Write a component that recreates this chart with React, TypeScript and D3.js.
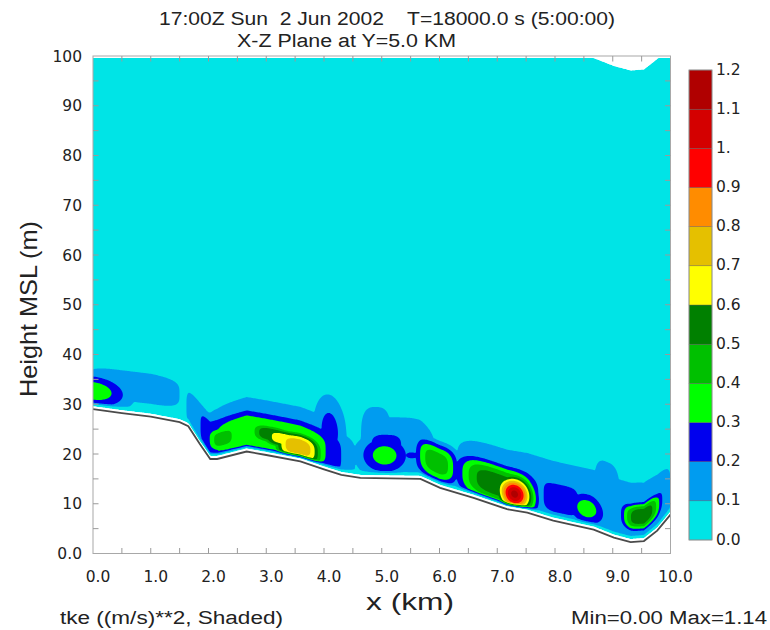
import React, { useMemo } from "react";
import * as d3 from "d3";

// Surface elevation along the slice: x (km) and height MSL (m)
const terrainX = [0, 0.5, 1.0, 1.5, 1.65, 1.85, 2.03, 2.15, 2.66, 3.0, 3.59, 4.0, 4.3, 4.63, 5.67, 6.01, 6.59, 7.17, 7.52, 7.97, 8.67, 9.02, 9.31, 9.54, 9.77, 10.0];
const terrainZ = [29.0, 28.2, 27.5, 26.4, 25.6, 22.0, 19.0, 19.0, 20.5, 19.8, 18.5, 16.9, 15.8, 15.2, 15.0, 13.2, 11.2, 8.9, 8.2, 6.6, 4.8, 3.2, 2.3, 2.5, 4.6, 7.8];

// Turbulent eddies: centre x (km), centre height above ground (m),
// half-widths (km, m), peak tke (m²/s²) and edge sharpness
const cellX = [0.02, 0.7, 3.08, 3.17, 4.1, 3.55, 3.28, 3.1, 2.25, 5.05, 5.08, 5.95, 5.52, 5.28, 4.9, 7.0, 7.3, 8.55, 8.1, 9.5, 8.15, 8.9];
const cellH = [3.7, 5.6, 3.8, 5.0, 8.1, 2.9, 3.9, 4.3, 3.85, 4.6, 6.5, 4.8, 4.7, 6.0, 8.0, 4.3, 3.3, 3.9, 4.65, 5.0, 4.0, 8.0];
const cellWx = [0.62, 1.0, 1.36, 1.54, 0.3, 0.45, 0.4, 0.42, 0.31, 0.48, 0.4, 0.38, 0.234, 0.88, 0.35, 0.7, 0.32, 0.36, 0.4, 0.35, 2.15, 0.3];
const cellWh = [3.6, 3.8, 5.0, 7.5, 7.6, 3.2, 2.2, 2.2, 2.75, 4.3, 3.5, 4.0, 1.4, 8.5, 8.5, 4.3, 3.8, 3.7, 3.85, 2.8, 9.3, 9.0];
const cellPeak = [0.38, 0.15, 0.38, 0.15, 0.25, 0.78, 0.66, 0.58, 0.45, 0.36, 0.26, 0.46, 0.24, 0.15, 0.15, 0.57, 1.14, 0.37, 0.27, 0.58, 0.15, 0.15];
const cellShape = [2, 4, 4, 4, 2, 3, 3, 3, 3, 2, 3, 3, 2, 3, 3, 3, 2, 2, 4, 3, 6, 3];

// Shading levels and colours
const levels = [0, 0.1, 0.2, 0.3, 0.4, 0.5, 0.6, 0.7, 0.8, 0.9, 1.0, 1.1, 1.2];
const levelLabels = ["0.0", "0.1", "0.2", "0.3", "0.4", "0.5", "0.6", "0.7", "0.8", "0.9", "1.", "1.1", "1.2"];
const bandColors = ["#00e4e6", "#009cf0", "#0000ee", "#00ff00", "#00c000", "#008000", "#ffff00", "#e5c000", "#ff8c00", "#ff0000", "#d40000", "#b00000"];

const xTicks = [0, 1, 2, 3, 4, 5, 6, 7, 8, 9, 10];
const xTickLabels = ["0.0", "1.0", "2.0", "3.0", "4.0", "5.0", "6.0", "7.0", "8.0", "9.0", "10.0"];
const yTicks = [0, 10, 20, 30, 40, 50, 60, 70, 80, 90, 100];
const yTickLabels = ["0.0", "10", "20", "30", "40", "50", "60", "70", "80", "90", "100"];

const W = 770;
const H = 630;
const GAP = 0.6; // lowest shaded level above the surface (m)
const RAMP = 0.9; // surface damping depth (m)
const MODEL_DEPTH = 94.8; // model top above the surface (m)
const TOP_LIMIT = 99.6;

const xs = d3.scaleLinear().domain([0, 10]).range([93, 670.5]);
const ys = d3.scaleLinear().domain([0, 100]).range([553.5, 56]);
const terrainAt = d3.scaleLinear().domain(terrainX).range(terrainZ).clamp(true);

const NX = 501;
const NZ = 501;
const DX = 10 / (NX - 1);
const DZ = 100 / (NZ - 1);

function buildField(): Float64Array {
  const n = cellX.length;
  const values = new Float64Array(NX * NZ);
  const xf = new Float64Array(n);
  for (let i = 0; i < NX; i++) {
    const x = i * DX;
    const g = terrainAt(x);
    for (let k = 0; k < n; k++) {
      xf[k] = Math.pow(Math.abs((x - cellX[k]) / cellWx[k]), cellShape[k]);
    }
    for (let j = 0; j < NZ; j++) {
      const h = j * DZ - g;
      let v = 0;
      if (h > 0) {
        for (let k = 0; k < n; k++) {
          if (xf[k] > 9) continue;
          const t = xf[k] + Math.pow(Math.abs((h - cellH[k]) / cellWh[k]), cellShape[k]);
          if (t < 9) {
            const e = cellPeak[k] * Math.exp(-t);
            if (e > v) v = e;
          }
        }
        v *= Math.min(1, Math.max(0, (h - GAP) / RAMP));
      }
      values[j * NX + i] = v;
    }
  }
  return values;
}

export default function App() {
  const { bands, domainPath, terrainPath } = useMemo(() => {
    const values = buildField();
    const thresholds = levels.slice(1, -1);
    const gen = d3.contours().size([NX, NZ]).thresholds(thresholds);
    const proj = d3.geoTransform({
      point(px: number, py: number) {
        (this as any).stream.point(xs((px - 0.5) * DX), ys((py - 0.5) * DZ));
      },
    });
    const path = d3.geoPath(proj);
    const bands = gen(values).map((c, i) => ({ d: path(c as any) || "", color: bandColors[i + 1] }));

    const xsSample = d3.range(0, 10.0001, 0.02);
    const area = d3
      .area<number>()
      .x((x) => xs(x))
      .y0((x) => ys(terrainAt(x) + GAP))
      .y1((x) => ys(Math.min(terrainAt(x) + MODEL_DEPTH, TOP_LIMIT)));
    const domainPath = area(xsSample) || "";
    const line = d3
      .line<number>()
      .x((_, i) => xs(terrainX[i]))
      .y((_, i) => ys(terrainZ[i]));
    const terrainPath = line(terrainX) || "";
    return { bands, domainPath, terrainPath };
  }, []);

  const cbX = 689;
  const cbW = 23;
  const cb = d3.scaleLinear().domain([0, 1.2]).range([540, 70]);
  const numFont = "'DejaVu Sans', Verdana, sans-serif";
  const textFont = "'Liberation Sans', Arial, sans-serif";
  const xMinor = d3.range(0.5, 10, 0.5);
  const yMinor = d3.range(5, 100, 5);

  return (
    <svg width={W} height={H} style={{ position: "absolute", left: 0, top: 0, display: "block", background: "#fff" }}>
      <defs>
        <clipPath id="domain">
          <path d={domainPath} />
        </clipPath>
      </defs>

      <g clipPath="url(#domain)">
        <path d={domainPath} fill={bandColors[0]} />
        {bands.map((b, i) => (
          <path key={i} d={b.d} fill={b.color} stroke="none" />
        ))}
      </g>
      <path d={terrainPath} fill="none" stroke="#4a4a4a" strokeWidth={1.8} />

      {/* frame and ticks */}
      <rect x={93} y={56} width={577.5} height={497.5} fill="none" stroke="#a8a8a8" strokeWidth={1} />
      {xMinor.map((v) => (
        <g key={"xt" + v} stroke="#9a9a9a" strokeWidth={1}>
          <line x1={xs(v)} x2={xs(v)} y1={553.5} y2={548} />
          <line x1={xs(v)} x2={xs(v)} y1={56} y2={61.5} />
        </g>
      ))}
      {yMinor.map((v) => (
        <g key={"yt" + v} stroke="#9a9a9a" strokeWidth={1}>
          <line x1={93} x2={98.5} y1={ys(v)} y2={ys(v)} />
          <line x1={670.5} x2={665} y1={ys(v)} y2={ys(v)} />
        </g>
      ))}

      {xTicks.map((v, i) => (
        <text key={"xl" + v} x={xs(v) + 5} y={582} textAnchor="middle" fontFamily={numFont} fontSize={15.5} fill="#222">
          {xTickLabels[i]}
        </text>
      ))}
      {yTicks.map((v, i) => (
        <text key={"yl" + v} x={82} y={ys(v)} dy="0.36em" textAnchor="end" fontFamily={numFont} fontSize={15.5} fill="#222">
          {yTickLabels[i]}
        </text>
      ))}

      {/* colour bar */}
      {bandColors.map((c, i) => (
        <rect key={"cb" + i} x={cbX} y={cb(levels[i + 1])} width={cbW} height={cb(levels[i]) - cb(levels[i + 1])} fill={c} stroke="#5a5a5a" strokeWidth={0.4} />
      ))}
      <rect x={cbX} y={70} width={cbW} height={470} fill="none" stroke="#999" strokeWidth={0.8} />
      {levels.map((v, i) => (
        <text key={"cl" + i} x={716} y={cb(v) - 1} dy="0.36em" fontFamily={numFont} fontSize={15.5} fill="#222">
          {levelLabels[i]}
        </text>
      ))}

      {/* titles */}
      <text x={387} y={25} textAnchor="middle" fontFamily={textFont} fontSize={18} fill="#222" textLength={456} lengthAdjust="spacingAndGlyphs" style={{ whiteSpace: "pre" }}>
        {"17:00Z Sun  2 Jun 2002    T=18000.0 s (5:00:00)"}
      </text>
      <text x={346.5} y={47} textAnchor="middle" fontFamily={textFont} fontSize={18} fill="#222" textLength={219} lengthAdjust="spacingAndGlyphs">
        X-Z Plane at Y=5.0 KM
      </text>
      <text transform="translate(37,309) rotate(-90)" textAnchor="middle" fontFamily={textFont} fontSize={24} fill="#222" textLength={176} lengthAdjust="spacingAndGlyphs">
        Height MSL (m)
      </text>
      <text x={410} y={610} textAnchor="middle" fontFamily={textFont} fontSize={24} fill="#222" textLength={88} lengthAdjust="spacingAndGlyphs">
        x (km)
      </text>
      <text x={60} y={624} fontFamily={textFont} fontSize={18} fill="#222" textLength={223} lengthAdjust="spacingAndGlyphs">
        tke ((m/s)**2, Shaded)
      </text>
      <text x={767} y={624} textAnchor="end" fontFamily={textFont} fontSize={18} fill="#222" textLength={196} lengthAdjust="spacingAndGlyphs">
        Min=0.00 Max=1.14
      </text>
    </svg>
  );
}
